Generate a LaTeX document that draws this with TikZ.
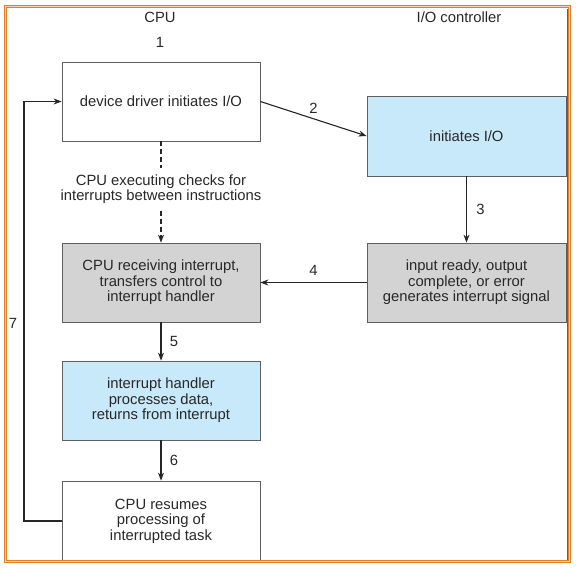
\documentclass[tikz,border=0pt]{standalone}
\usepackage{fontspec}
\setmainfont{Liberation Sans}
\usetikzlibrary{arrows.meta}
\definecolor{frameorange}{RGB}{226,128,40}
\definecolor{boxline}{RGB}{95,95,95}
\definecolor{lightblue}{RGB}{200,233,250}
\definecolor{boxgray}{RGB}{211,211,211}
\definecolor{textgray}{RGB}{40,40,40}

\begin{document}
\begin{tikzpicture}[x=1pt, y=-1pt, >={Stealth[length=8pt,width=6pt]},
    every node/.style={font=\fontsize{14.8}{15.5}\selectfont, text=textgray},
    box/.style={draw=boxline, line width=0.8pt, minimum width=198pt, minimum height=79pt, inner sep=0pt, align=center},
    flow/.style={->, line width=1.1pt, black!85}]
    \def\cpuX{161}
    \def\ioX{466.5}

    % Page and bounding box
    \fill[white] (0,0) rectangle (576,568);
    \useasboundingbox (0,0) rectangle (576,568);

    % Column titles
    \node (cpu) at (160,17) {CPU};
    \node (ioc) at (459,17) {I/O controller};
    \node (one) at (160,42) {1};

    % CPU side boxes
    \node[box] (driver) at (\cpuX,101.5) {device driver initiates I/O};
    \node[box, fill=boxgray] (cpurecv) at (\cpuX,282.5) {CPU receiving interrupt,\\transfers control to\\interrupt handler};
    \node[box, fill=lightblue] (handler) at (\cpuX,400.5) {interrupt handler\\processes data,\\returns from interrupt};
    \node[box, minimum height=80pt] (resume) at (\cpuX,521) {CPU resumes\\processing of\\interrupted task};

    % I/O controller side boxes
    \node[box, fill=lightblue, minimum width=199pt, minimum height=80pt] (ctrlinit) at (\ioX,136) {initiates I/O};
    \node[box, fill=boxgray, minimum width=199pt] (signal) at (\ioX,282.5) {input ready, output\\complete, or error\\generates interrupt signal};

    % Polling note between driver and cpurecv
    \node[align=center, inner ysep=6.5pt] (checks) at (\cpuX,189.4) {CPU executing checks for\\interrupts between instructions};
    \draw[line width=1.1pt, black!85, dash pattern=on 5pt off 3pt] (driver.south) -- (checks.north);
    \draw[flow, dash pattern=on 5pt off 3pt] (checks.south) -- (cpurecv.north);

    % Numbered steps
    \draw[flow] (driver.east) -- (ctrlinit.west) node[midway, above=1pt] {2}; % 2
    \draw[flow] (ctrlinit.south) -- (signal.north) node[midway, right=6pt] {3}; % 3
    \draw[flow] (signal.west) -- (cpurecv.east) node[midway, above=3pt] {4};   % 4
    \draw[flow] (cpurecv.south) -- (handler.north) node[midway, right=5pt] {5}; % 5
    \draw[flow] (handler.south) -- (resume.north) node[midway, right=5pt] {6}; % 6

    % Loop back to the driver
    \coordinate (loopbot) at (24,521);
    \coordinate (looptop) at (24,101.5);
    \draw[flow] (resume.west) -- (loopbot) -- (looptop) node[pos=0.47, left=3pt] {7} -- (driver.west); % 7

    % Outer frame
    \draw[boxline, line width=0.9pt] (567,9) -- (567,561);
    \draw[frameorange, line width=1.2pt, double=frameorange!35, double distance=1.5pt] (5.5,6.5) rectangle (569.5,561.5);
\end{tikzpicture}
\end{document}
